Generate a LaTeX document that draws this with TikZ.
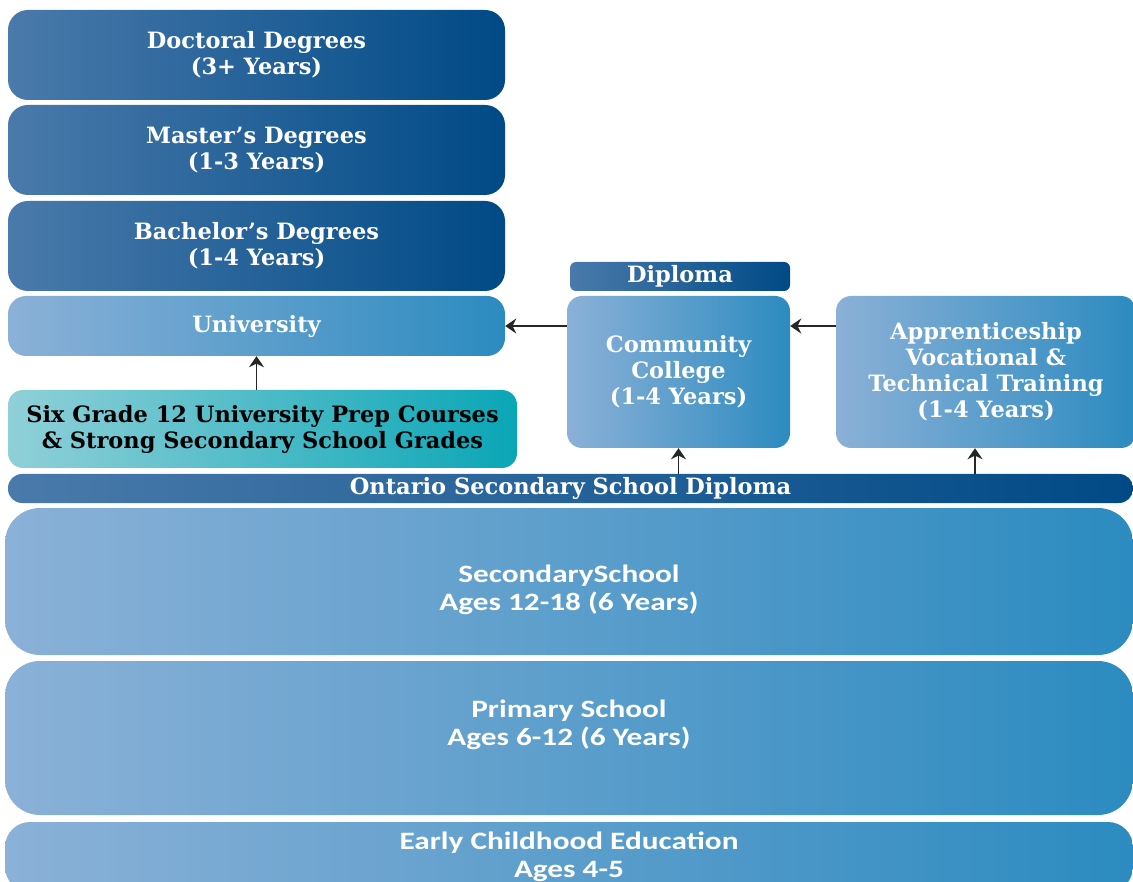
\documentclass[tikz,border=0pt]{standalone}
\usepackage{fontspec}
\setmainfont{DejaVu Serif}
\newfontfamily\agefont[FakeStretch=1.25]{Carlito}
\usetikzlibrary{arrows.meta}
\definecolor{deepleft}{RGB}{74, 122, 171}
\definecolor{deepright}{RGB}{0, 74, 134}
\definecolor{paleleft}{RGB}{139, 177, 215}
\definecolor{paleright}{RGB}{44, 139, 192}
\definecolor{tealleft}{RGB}{144, 208, 216}
\definecolor{tealright}{RGB}{10, 166, 182}

\begin{document}
\begin{tikzpicture}[
  x=1pt, y=-1pt,
  tier/.style={rounded corners=20pt, inner sep=0pt, align=center, text=white, font=\bfseries\fontsize{22.5}{26}\selectfont},
  deep/.style={tier, left color=deepleft, right color=deepright},
  pale/.style={tier, left color=paleleft, right color=paleright},
  agetext/.style={align=center, text=white, font=\agefont\bfseries\fontsize{25}{28}\selectfont},
  stage/.style={pale, rounded corners=35pt, agetext},
  link/.style={-{Stealth[length=11pt, width=15pt]}, line width=1.8pt, black!85}
]
  \clip (0, 0) rectangle (1133, 882);

  \node[deep, minimum width=497pt, minimum height=90pt] (doct) at (256.5, 55) {Doctoral Degrees\\(3+ Years)};
  \node[deep, minimum width=497pt, minimum height=90pt] (mast) at (256.5, 150) {Master's Degrees\\(1-3 Years)};
  \node[deep, minimum width=497pt, minimum height=90pt] (bach) at (256.5, 246) {Bachelor's Degrees\\(1-4 Years)};
  \node[pale, minimum width=497pt, minimum height=60pt, rounded corners=18pt] (univ) at (256.5, 326) {University};

  \node[tier, left color=tealleft, right color=tealright, text=black, rounded corners=15pt,
        minimum width=509pt, minimum height=78pt] (prep) at (262.5, 429) {
    Six Grade 12 University Prep Courses\\
    \& Strong Secondary School Grades
  };

  \node[deep, minimum width=220pt, minimum height=29pt, rounded corners=6pt] (dipl) at (680, 276.5) {Diploma};
  \node[pale, minimum width=223pt, minimum height=152pt, rounded corners=15pt] (college) at (678.5, 372) {
    Community\\
    College\\
    (1-4 Years)
  };
  \node[pale, minimum width=300pt, minimum height=152pt, rounded corners=15pt] (trade) at (986, 372) {
    Apprenticeship\\
    Vocational \&\\
    Technical Training\\
    (1-4 Years)
  };

  \node[deep, minimum width=1125pt, minimum height=29pt, rounded corners=14pt] (osd) at (570.5, 488.5) {Ontario Secondary School Diploma};

  % stage boxes, text set off the centre as in the chart
  \node[stage, minimum width=1128pt, minimum height=147pt,
        label={[agetext, yshift=-8pt]center:SecondarySchool\\Ages 12-18 (6 Years)}] (second) at (569, 581.5) {};
  \node[stage, minimum width=1128pt, minimum height=154pt,
        label={[agetext, yshift=13pt]center:Primary School\\Ages 6-12 (6 Years)}] (prim) at (569, 738) {};
  \node[stage, minimum width=1128pt, minimum height=70pt, rounded corners=25pt] (early) at (569, 857) {Early Childhood Education\\Ages 4-5};

  \draw[link] (prep.north -| univ.south) -- (univ.south);
  \draw[link] (college.west |- univ.east) -- (univ.east);
  \draw[link] (trade.west |- univ.east) -- (college.east |- univ.east);
  \draw[link] (osd.north -| college.south) -- (college.south);
  \draw[link] ([xshift=-11pt]trade.south |- osd.north) -- ([xshift=-11pt]trade.south);
\end{tikzpicture}
\end{document}
